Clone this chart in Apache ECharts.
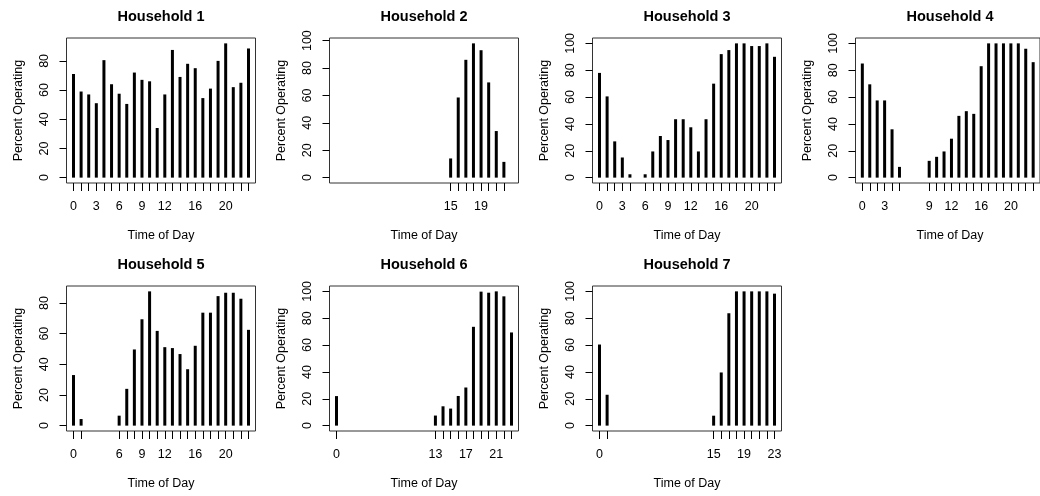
<!DOCTYPE html>
<html>
<head>
<meta charset="utf-8">
<script src="https://cdn.jsdelivr.net/npm/echarts@6/dist/echarts.min.js"></script>
<style>
html,body{margin:0;padding:0;background:#fff;}
#chart{width:1040px;height:496px;}
</style>
</head>
<body>
<div id="chart"></div>
<script>
// ---- data ----
const titles = ["Household 1","Household 2","Household 3","Household 4","Household 5","Household 6","Household 7"];

const h1Hours = [0,1,2,3,4,5,6,7,8,9,10,11,12,13,14,15,16,17,18,19,20,21,22,23];
const h1Values = [71,59,57,51,80.5,64,57.5,50.5,72,67,66,34,57,87.5,69,78,75,54.5,61,80,92,62,65,88.5];

const h2Hours = [15,16,17,18,19,20,21,22];
const h2Values = [14,58.5,86,98,93,69.5,34,11.5];

const h3Hours = [0,1,2,3,4,6,7,8,9,10,11,12,13,14,15,16,17,18,19,20,21,22,23];
const h3Values = [78,60.5,27,15,2.5,2.5,19.5,31,28,43.5,43.5,37.5,19.5,43.5,70,92,95,100,100,98,98,100,90];

const h4Hours = [0,1,2,3,4,5,9,10,11,12,13,14,15,16,17,18,19,20,21,22,23];
const h4Values = [85,69.5,57.5,57.5,36,8,12.5,15.5,19.5,29,46,49.5,47.5,83,100,100,100,100,100,96,86];

const h5Hours = [0,1,6,7,8,9,10,11,12,13,14,15,16,17,18,19,20,21,22,23];
const h5Values = [33,4.3,6.5,24,49.7,69.4,87.6,61.8,51.2,50.6,46.7,36.8,52.1,73.7,73.7,84.5,86.7,86.7,82.8,62.5];

const h6Hours = [0,13,14,15,16,17,18,19,20,21,22,23];
const h6Values = [22,7.5,14.4,12.7,22.1,28.4,73.6,99.8,99,100,96.3,69.4];

const h7Hours = [0,1,15,16,17,18,19,20,21,22,23];
const h7Values = [60.4,23,7.4,39.6,83.7,100,100,100,100,100,98.3];

const h1Labels = [0,3,6,9,12,16,20];
const h2Labels = [15,19];
const h3Labels = [0,3,6,9,12,16,20];
const h4Labels = [0,3,9,12,16,20];
const h5Labels = [0,6,9,12,16,20];
const h6Labels = [0,13,17,21];
const h7Labels = [0,15,19,23];

const yTicks80 = [0,20,40,60,80];
const yTicks100 = [0,20,40,60,80,100];

const xTitle = "Time of Day";
const yTitle = "Percent Operating";

// ---- assemble ----
const panels = [
  {hours:h1Hours, values:h1Values, labels:h1Labels, yticks:yTicks80},
  {hours:h2Hours, values:h2Values, labels:h2Labels, yticks:yTicks100},
  {hours:h3Hours, values:h3Values, labels:h3Labels, yticks:yTicks100},
  {hours:h4Hours, values:h4Values, labels:h4Labels, yticks:yTicks100},
  {hours:h5Hours, values:h5Values, labels:h5Labels, yticks:yTicks80},
  {hours:h6Hours, values:h6Values, labels:h6Labels, yticks:yTicks100},
  {hours:h7Hours, values:h7Values, labels:h7Labels, yticks:yTicks100}
];

const FONT = "'Liberation Sans', Arial, sans-serif";
const colLeft = [66.5, 329.5, 592.5, 855.5];
const rowTop = [38, 286];
const GW = 189, GH = 145;

const grids = [], xAxes = [], yAxes = [], series = [], graphics = [];
panels.forEach((p, i) => {
  const col = i % 4, row = Math.floor(i / 4);
  const left = colLeft[col], top = rowTop[row];
  grids.push({left:left, top:top, width:GW, height:GH, show:true, borderColor:'#333', borderWidth:1, backgroundColor:'transparent', containLabel:false});
  const xr = 23 - 0;
  xAxes.push({
    type:'value', gridIndex:i, position:'bottom', min:-0.04*xr, max:23 + 0.04*xr,
    axisLine:{show:false, onZero:false}, splitLine:{show:false},
    axisTick:{show:true, inside:false, customValues:p.hours, length:8, lineStyle:{color:'#000', width:1}},
    axisLabel:{show:true, customValues:p.labels, fontSize:12.5, color:'#000', fontFamily:FONT, margin:17.5}
  });
  const ymax = Math.max(...p.values);
  yAxes.push({
    type:'value', gridIndex:i, position:'left', min:-0.04*ymax, max:1.04*ymax,
    axisLine:{show:false, onZero:false}, splitLine:{show:false},
    axisTick:{show:true, inside:false, customValues:p.yticks, length:7, lineStyle:{color:'#000', width:1}},
    axisLabel:{show:true, customValues:p.yticks, rotate:90, fontSize:12.5, color:'#000', fontFamily:FONT, margin:15.5}
  });
  series.push({
    type:'bar', xAxisIndex:i, yAxisIndex:i, barWidth:3, silent:true,
    itemStyle:{color:'#000'},
    data:p.hours.map((h, j) => [h, p.values[j]])
  });
  const cx = left + GW / 2;
  graphics.push({type:'text', x:cx, y:top - 21, style:{text:titles[i], font:"bold 14.5px " + FONT, fill:'#000', align:'center', verticalAlign:'middle'}});
  graphics.push({type:'text', x:cx, y:top + GH + 52.5, style:{text:xTitle, font:"12.5px " + FONT, fill:'#000', align:'center', verticalAlign:'middle'}});
  graphics.push({type:'text', x:left - 47.5, y:top + GH / 2, rotation:Math.PI / 2, style:{text:yTitle, font:"12.5px " + FONT, fill:'#000', align:'center', verticalAlign:'middle'}});
});

const chart = echarts.init(document.getElementById('chart'), null, {renderer:'canvas'});
chart.setOption({
  animation:false,
  backgroundColor:'#fff',
  grid:grids, xAxis:xAxes, yAxis:yAxes, series:series, graphic:graphics
});
</script>
</body>
</html>
